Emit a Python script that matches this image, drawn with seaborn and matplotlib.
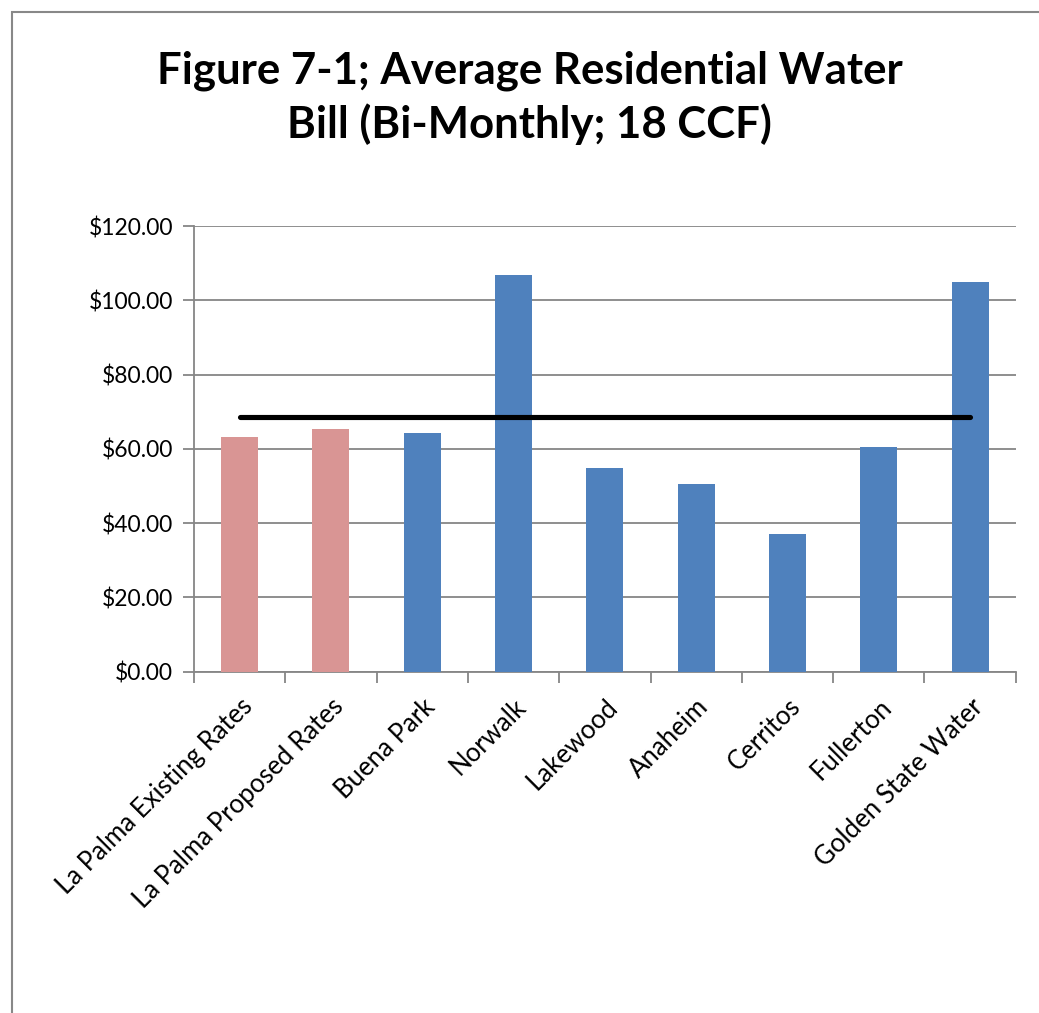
import matplotlib
matplotlib.use("Agg")
import matplotlib.pyplot as plt
import seaborn as sns
import pandas as pd
import numpy as np
from matplotlib.patches import Rectangle

categories = ["La Palma Existing Rates", "La Palma Proposed Rates", "Buena Park", "Norwalk",
              "Lakewood", "Anaheim", "Cerritos", "Fullerton", "Golden State Water"]
bills = [63.2, 65.3, 64.2, 106.9, 54.9, 50.5, 37.0, 60.5, 104.9]
groups = ["La Palma", "La Palma", "Other", "Other", "Other", "Other", "Other", "Other", "Other"]
average_line = [68.5] * len(categories)
yticks = [0, 20, 40, 60, 80, 100, 120]

sns.set_theme(style="white")
plt.rcParams['font.family'] = ['Lato', 'DejaVu Sans']
plt.rcParams['text.color'] = 'black'
plt.rcParams['xtick.color'] = 'black'
plt.rcParams['ytick.color'] = 'black'

df = pd.DataFrame({"cat": categories, "bill": bills, "grp": groups})

fig = plt.figure(figsize=(10.39, 10.13), dpi=100)
ax = fig.add_axes([0.1867, 0.3369, 0.9776 - 0.1867, 0.7769 - 0.3369])

sns.barplot(data=df, x="cat", y="bill", hue="grp", dodge=False, width=0.405, saturation=1,
            palette={"La Palma": "#D99594", "Other": "#4F81BD"}, legend=False,
            edgecolor="none", ax=ax, zorder=3)
ax.plot(categories, average_line, color="black", lw=3.7, solid_capstyle="round", zorder=4)

ax.set_ylim(0, 120)
ax.set_xlim(-0.5, len(categories) - 0.5)
ax.set_yticks(yticks)
ax.set_yticklabels([f"${v:.2f}" for v in yticks], fontsize=16.5)
ax.yaxis.grid(True, color="#868686", lw=1.3, zorder=0)
ax.set_axisbelow(True)
ax.set_xlabel("")
ax.set_ylabel("")

ax.set_xticks(range(len(categories)))
ax.set_xticklabels(categories, rotation=45, ha="right", rotation_mode="anchor", fontsize=18.5)
ax.tick_params(axis="x", length=0, pad=16, colors="black")
ax.tick_params(axis="y", length=8, width=1.3, color="#868686", labelcolor="black",
               direction="out", left=True, pad=7)
ax.set_xticks(np.arange(-0.5, len(categories), 1.0), minor=True)
ax.tick_params(axis="x", which="minor", length=8, width=1.3, color="#868686", direction="out", bottom=True)

for s in ["top", "right"]:
    ax.spines[s].set_visible(False)
for s in ["left", "bottom"]:
    ax.spines[s].set_color("#868686")
    ax.spines[s].set_linewidth(1.3)

fig.text(0.51, 0.930, "Figure 7-1; Average Residential Water", ha="center", va="center",
         fontsize=31.5, fontweight="bold")
fig.text(0.51, 0.877, "Bill (Bi-Monthly; 18 CCF)", ha="center", va="center",
         fontsize=31.5, fontweight="bold")

fig.patches.append(Rectangle((12 / 1039, -0.1), 1.2, 1 - 12 / 1013 + 0.1, transform=fig.transFigure,
                             fill=False, edgecolor="#888888", lw=1.5))

fig.savefig("out.png", dpi=100)
